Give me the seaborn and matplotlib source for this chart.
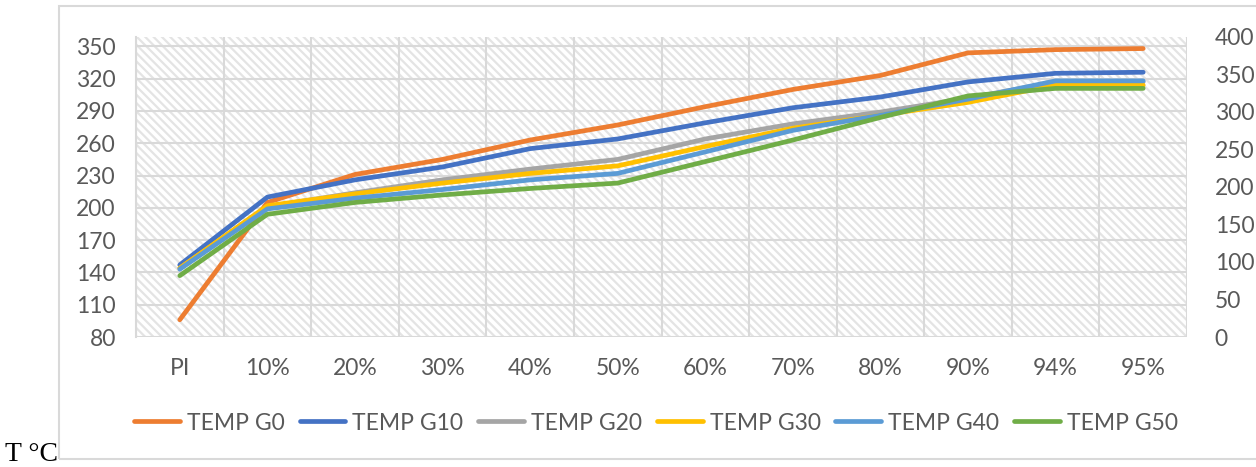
import matplotlib
matplotlib.use("Agg")
import matplotlib.pyplot as plt
from matplotlib.patches import Rectangle
from matplotlib.ticker import FixedLocator, NullFormatter
import numpy as np
import pandas as pd
import seaborn as sns

# Distillation stages and temperatures (°C) for each blend
stages = ["PI", "10%", "20%", "30%", "40%", "50%", "60%", "70%", "80%", "90%", "94%", "95%"]
temp_g0 = [96, 205, 231, 245, 263, 277, 294, 310, 323, 344, 347, 348]
temp_g10 = [147, 210, 226, 238, 255, 264, 279, 293, 303, 317, 325, 326]
temp_g20 = [144, 201, 214, 226, 236, 245, 264, 278, 289, 302, 317, 317]
temp_g30 = [144, 202, 213, 223, 232, 239, 257, 274, 286, 298, 314, 314]
temp_g40 = [143, 199, 209, 217, 226, 232, 252, 272, 286, 301, 318, 318]
temp_g50 = [137, 194, 205, 212, 218, 223, 243, 263, 284, 304, 311, 311]
series_names = ["TEMP G0", "TEMP G10", "TEMP G20", "TEMP G30", "TEMP G40", "TEMP G50"]
left_ticks = [80, 110, 140, 170, 200, 230, 260, 290, 320, 350]
right_ticks = [0, 50, 100, 150, 200, 250, 300, 350, 400]

colors = ["#ED7D31", "#4472C4", "#A5A5A5", "#FFC000", "#5B9BD5", "#70AD47"]
text_col = "#595959"
grid_col = "#D9D9D9"
hatch_col = "#E4E4E4"

sns.set_theme(style="white")
plt.rcParams["font.family"] = ["Lato", "DejaVu Sans"]
plt.rcParams["hatch.linewidth"] = 1.6
plt.rcParams["hatch.color"] = hatch_col

all_series = [temp_g0, temp_g10, temp_g20, temp_g30, temp_g40, temp_g50]
rows = []
for name, vals in zip(series_names, all_series):
    for i, v in enumerate(vals):
        rows.append({"pos": i, "stage": stages[i], "temp": v, "series": name})
df = pd.DataFrame(rows)

W, H = 1256, 467
fig = plt.figure(figsize=(W / 100, H / 100), dpi=100)
fig.patch.set_facecolor("white")

# chart frame
fig.add_artist(Rectangle((59 / W, (H - 459) / H), 1.2, (459 - 6) / H,
                         transform=fig.transFigure, fill=False,
                         edgecolor=grid_col, linewidth=1.5))

ax = fig.add_axes([136 / W, (H - 337) / H, (1187 - 136) / W, (337 - 36.5) / H])
ax.set_facecolor("white")
ax.add_patch(Rectangle((0, 0), 1, 1, transform=ax.transAxes, facecolor="white",
                       edgecolor=hatch_col, hatch="\\\\\\\\", linewidth=0, zorder=0))

n = len(stages)
ax.set_xlim(-0.5, n - 0.5)
ax.set_ylim(80, 359.2)

# horizontal gridlines at left-axis ticks
ax.yaxis.set_major_locator(FixedLocator(left_ticks))
ax.grid(axis="y", color=grid_col, linewidth=1.5, zorder=1)
# vertical gridlines between categories
ax.xaxis.set_major_locator(FixedLocator(range(n)))
ax.set_xticklabels(stages)
ax.xaxis.set_minor_locator(FixedLocator(np.arange(-0.5, n, 1.0)))
ax.xaxis.set_minor_formatter(NullFormatter())
ax.grid(axis="x", which="minor", color=grid_col, linewidth=1.5, zorder=1)
ax.set_axisbelow(True)

sns.lineplot(data=df, x="pos", y="temp", hue="series", palette=colors,
             linewidth=3.4, ax=ax, legend=False, sort=False,
             solid_capstyle="round", solid_joinstyle="round", zorder=3)

ax.set_xlabel("")
ax.set_ylabel("")
for s in ["top", "right", "bottom"]:
    ax.spines[s].set_visible(False)
ax.spines["left"].set_color(grid_col)
ax.spines["left"].set_linewidth(1.5)
ax.tick_params(axis="x", which="major", length=0, pad=15, labelsize=16.5, labelcolor=text_col)
ax.tick_params(axis="x", which="minor", length=6, width=1.5, color=grid_col, direction="out")
ax.tick_params(axis="y", length=0, pad=14.5, labelsize=16.5, labelcolor=text_col)

ax2 = ax.twinx()
ax2.set_ylim(0, 400)
ax2.yaxis.set_major_locator(FixedLocator(right_ticks))
for s in ax2.spines.values():
    s.set_visible(False)
ax2.grid(False)
ax2.tick_params(axis="y", which="both", left=False, right=True, labelleft=False,
                labelright=True, length=0, pad=20, labelsize=16.5, labelcolor=text_col)

handles = [plt.Line2D([], [], color=c, linewidth=3.4, solid_capstyle="round") for c in colors]
leg = fig.legend(handles, series_names, loc="center", bbox_to_anchor=(656 / W, (H - 423) / H),
                 ncol=6, frameon=False, fontsize=16.5, handlelength=2.0,
                 handletextpad=0.3, columnspacing=0.65)
for t in leg.get_texts():
    t.set_color(text_col)

fig.text(5 / W, (H - 461) / H, "T °C", family=["Liberation Serif", "DejaVu Serif"],
         fontsize=20, color="black", va="baseline", ha="left")

fig.savefig("out.png", dpi=100, facecolor="white")
